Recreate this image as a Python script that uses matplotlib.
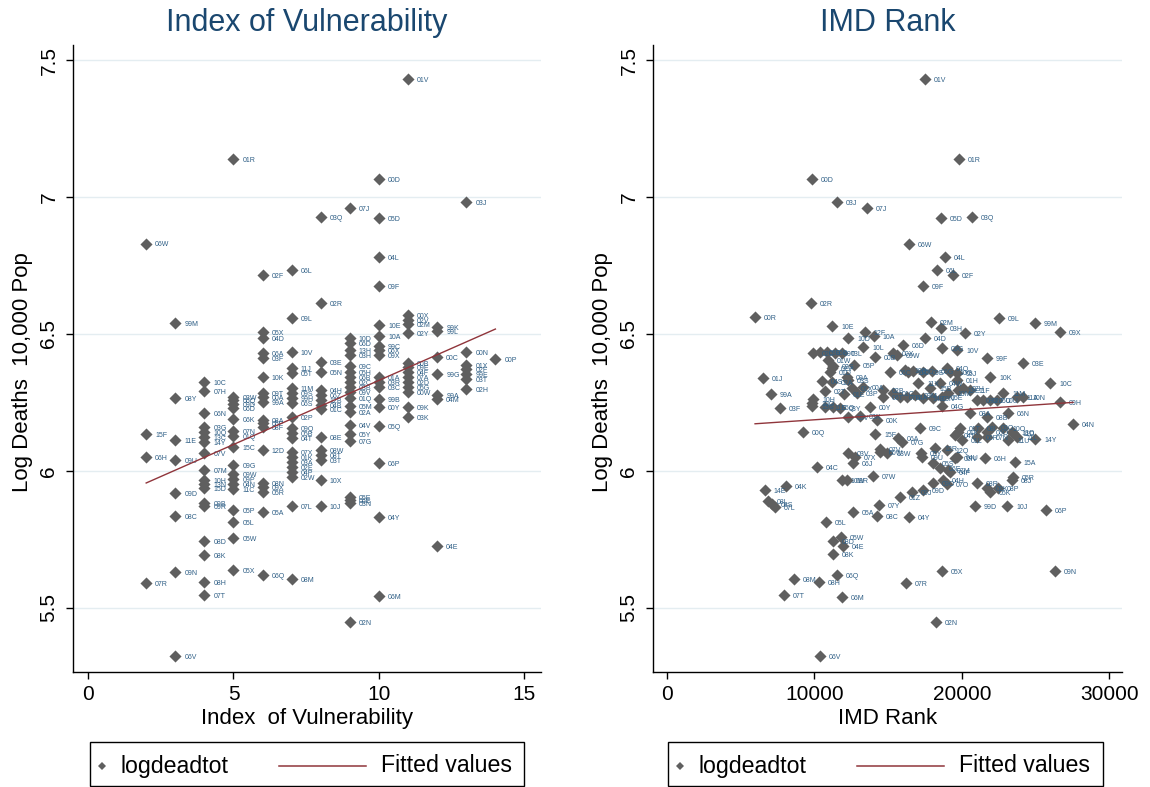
import numpy as np
import matplotlib
matplotlib.use('Agg')
import matplotlib.pyplot as plt
from matplotlib.lines import Line2D
from matplotlib.patches import Rectangle

plt.rcParams['font.family'] = ['Liberation Sans', 'DejaVu Sans']

# ---- left panel: index of vulnerability (integer scores) ----
vuln_index = [
    2, 2, 2, 2,
    3, 3, 3, 3, 3, 3, 3, 3,
    4, 4, 4, 4, 4, 4, 4, 4, 4, 4, 4, 4, 4, 4, 4, 4, 4, 4,
    5, 5, 5, 5, 5, 5, 5, 5, 5, 5, 5, 5, 5, 5, 5, 5, 5, 5,
    6, 6, 6, 6, 6, 6, 6, 6, 6, 6, 6, 6, 6, 6, 6, 6, 6, 6,
    7, 7, 7, 7, 7, 7, 7, 7, 7, 7, 7, 7, 7, 7, 7, 7, 7, 7, 7, 7, 7,
    8, 8, 8, 8, 8, 8, 8, 8, 8, 8, 8, 8, 8, 8, 8,
    9, 9, 9, 9, 9, 9, 9, 9, 9, 9, 9, 9, 9, 9, 9, 9, 9, 9, 9, 9, 9,
    10, 10, 10, 10, 10, 10, 10, 10, 10, 10, 10, 10, 10, 10, 10, 10, 10, 10,
    11, 11, 11, 11, 11, 11, 11, 11, 11, 11, 11, 11, 11, 11,
    12, 12, 12, 12, 12, 12, 12,
    13, 13, 13, 13, 13, 13, 13,
    14,
]
vuln_logdeath = [
    6.83, 6.135, 6.05, 5.59,
    6.54, 6.266, 6.113, 6.04, 5.92, 5.836, 5.63, 5.325,
    6.325, 6.292, 6.212, 6.161, 6.142, 6.124, 6.106, 6.066, 6.004, 5.967,
    5.953, 5.938, 5.883, 5.872, 5.745, 5.693, 5.595, 5.547,
    7.139, 6.270, 6.259, 6.245, 6.230, 6.190, 6.146, 6.128, 6.088, 6.022,
    5.989, 5.971, 5.953, 5.934, 5.858, 5.814, 5.755, 5.639,
    6.715, 6.507, 6.485, 6.431, 6.412, 6.343, 6.285, 6.270, 6.252, 6.186,
    6.175, 6.161, 6.077, 5.956, 5.942, 5.923, 5.850, 5.620,
    6.734, 6.558, 6.434, 6.376, 6.358, 6.303, 6.285, 6.266, 6.248, 6.197,
    6.157, 6.139, 6.120, 6.069, 6.051, 6.033, 6.015, 5.996, 5.978, 5.872, 5.606,
    6.927, 6.613, 6.398, 6.361, 6.296, 6.277, 6.259, 6.241, 6.226, 6.124,
    6.077, 6.058, 6.040, 5.967, 5.872,
    6.960, 6.485, 6.467, 6.442, 6.423, 6.383, 6.361, 6.343, 6.325, 6.307,
    6.288, 6.266, 6.237, 6.215, 6.168, 6.135, 6.109, 5.905, 5.894, 5.883, 5.449,
    7.066, 6.923, 6.781, 6.675, 6.533, 6.493, 6.456, 6.442, 6.423, 6.343,
    6.325, 6.307, 6.263, 6.234, 6.164, 6.029, 5.832, 5.544,
    7.431, 6.569, 6.551, 6.536, 6.504, 6.394, 6.380, 6.361, 6.343, 6.325,
    6.307, 6.288, 6.234, 6.197,
    6.526, 6.511, 6.416, 6.354, 6.277, 6.263, 5.726,
    6.982, 6.434, 6.387, 6.372, 6.354, 6.336, 6.299,
    6.409,
]
vuln_codes = [
    '06W', '15F', '06H', '07R',
    '99M', '08Y', '11E', '09U', '09D', '08C', '09N', '06V',
    '10C', '07H', '06N', '03G', '10Q', '13C', '14Y', '07V', '07M', '10H',
    '13N', '15D', '09B', '09R', '08D', '08K', '08H', '07T',
    '01R', '03W', '06Q', '09D', '06D', '06K', '07N', '01Q', '15C', '09G',
    '09W', '09P', '04N', '11C', '05P', '05L', '05W', '05X',
    '02F', '05X', '04D', '06A', '03F', '10K', '09T', '00A', '99A', '08A',
    '06F', '08F', '12D', '08N', '09X', '05R', '05A', '06Q',
    '06L', '09L', '10V', '11J', '05T', '11M', '09S', '99H', '06S', '02P',
    '09Q', '05B', '04T', '07X', '01K', '03A', '02E', '04P', '02W', '07L', '08M',
    '03Q', '02R', '03E', '05N', '04H', '06Z', '12B', '04B', '01C', '08E',
    '08W', '08T', '03T', '10X', '10J',
    '07J', '10D', '06D', '13H', '03H', '09C', '05H', '06B', '02C', '03B',
    '09V', '01Q', '05M', '02A', '04V', '05Y', '07G', '05E', '06E', '03N', '02N',
    '00D', '05D', '04L', '09F', '10E', '10A', '99C', '06X', '09X', '01A',
    '03R', '03C', '99B', '00Y', '05Q', '06P', '04Y', '06M',
    '01V', '00X', '02V', '02M', '02Y', '00B', '09E', '04F', '07A', '02D',
    '05G', '00W', '09K', '03K',
    '99K', '99L', '00C', '99G', '99A', '04M', '04E',
    '03J', '00N', '01X', '02F', '99E', '03T', '02H',
    '00P',
]

# ---- right panel: IMD rank ----
imd_rank = [
    17490, 19800, 9830, 11530, 13560, 18580, 20680, 16410, 18850, 18310,
    19390, 17360, 9760, 5970, 22510, 24950, 26640, 17900, 18580, 20200,
    17490, 16000, 18640, 19660, 15320, 15590, 21690, 24140, 11190, 13420,
    14030, 12270, 13290, 14100, 9900, 10370, 10850, 11390, 11860, 10920,
    12680, 11190, 11050, 11250, 12200, 12270, 6510, 10510, 11190, 13290,
    12540, 10710, 7050, 12000, 12880, 14640, 9900, 9830, 9830, 10710,
    11250, 11730, 7660, 13760, 12270, 13080, 14240, 9220, 14100, 12270,
    12750, 12610, 14440, 10170, 11860, 12200, 13970, 8070, 6640, 6850,
    7120, 7320, 15120, 16140, 16340, 16680, 17360, 17970, 18980, 19190,
    19660, 21900, 25970, 17020, 17830, 18510, 19660, 20070, 14640, 15320,
    15800, 16270, 16820, 17360, 18040, 18640, 19050, 19730, 20540, 22780,
    21020, 21420, 21900, 22370, 23730, 24140, 26640, 18640, 20540, 23120,
    21690, 27530, 17150, 22030, 22780, 19860, 19730, 21080, 21690, 23390,
    23460, 23730, 15660, 15930, 19530, 20000, 21020, 21690, 23120, 24950,
    18170, 18980, 14440, 14920, 17220, 17290, 19660, 19530, 21560, 23590,
    18040, 18510, 19050, 19190, 18710, 18980, 18040, 21020, 21690, 21900,
    22440, 23460, 23390, 16610, 15800, 17360, 14370, 20880, 23050, 25690,
    12610, 14240, 16410, 10780, 11800, 11250, 11930, 11250, 18640, 26300,
    11530, 8610, 10300, 16200, 7930, 11860, 18240, 10370,
]
imd_logdeath = [
    7.431, 7.139, 7.066, 6.982, 6.960, 6.923, 6.927, 6.828, 6.781, 6.734,
    6.715, 6.675, 6.613, 6.562, 6.558, 6.540, 6.507, 6.544, 6.522, 6.504,
    6.485, 6.460, 6.449, 6.442, 6.431, 6.423, 6.412, 6.394, 6.529, 6.507,
    6.493, 6.485, 6.453, 6.416, 6.431, 6.434, 6.434, 6.431, 6.431, 6.405,
    6.387, 6.376, 6.361, 6.383, 6.343, 6.332, 6.339, 6.328, 6.325, 6.307,
    6.303, 6.292, 6.281, 6.281, 6.285, 6.270, 6.263, 6.248, 6.237, 6.234,
    6.234, 6.230, 6.230, 6.234, 6.197, 6.201, 6.186, 6.142, 6.135, 6.066,
    6.051, 6.029, 6.080, 6.015, 5.967, 5.967, 5.982, 5.945, 5.931, 5.891,
    5.880, 5.869, 6.361, 6.369, 6.361, 6.365, 6.361, 6.365, 6.376, 6.361,
    6.358, 6.343, 6.321, 6.321, 6.303, 6.321, 6.332, 6.303, 6.296, 6.285,
    6.270, 6.270, 6.277, 6.266, 6.266, 6.270, 6.285, 6.296, 6.296, 6.285,
    6.259, 6.259, 6.259, 6.259, 6.270, 6.270, 6.252, 6.237, 6.212, 6.212,
    6.197, 6.172, 6.157, 6.161, 6.157, 6.157, 6.142, 6.157, 6.142, 6.142,
    6.139, 6.124, 6.120, 6.106, 6.131, 6.113, 6.124, 6.124, 6.113, 6.117,
    6.084, 6.077, 6.069, 6.066, 6.066, 6.051, 6.051, 6.048, 6.048, 6.033,
    6.029, 6.011, 6.004, 5.996, 5.967, 5.953, 5.956, 5.956, 5.938, 5.923,
    5.938, 5.978, 5.967, 5.923, 5.905, 5.931, 5.876, 5.872, 5.872, 5.858,
    5.850, 5.836, 5.832, 5.814, 5.759, 5.745, 5.726, 5.697, 5.635, 5.635,
    5.620, 5.606, 5.595, 5.591, 5.547, 5.540, 5.449, 5.325,
]
imd_codes = [
    '01V', '01R', '00D', '03J', '07J', '05D', '03Q', '06W', '04L', '06L',
    '02F', '09F', '02R', '00R', '09L', '99M', '09X', '02M', '03H', '02Y',
    '04D', '06D', '09G', '10V', '00X', '09W', '99F', '03E', '10E', '12F',
    '10A', '10D', '10L', '00B', '02C', '03B', '06B', '09T', '03L', '01W',
    '05P', '02V', '01D', '02S', '09A', '03S', '01J', '04S', '02A', '00A',
    '01X', '02T', '99A', '01E', '03P', '06T', '10H', '10Q', '13C', '11E',
    '05Q', '03Y', '03F', '00Y', '05V', '03K', '00K', '00Q', '15F', '03V',
    '07X', '06J', '07V', '04C', '10W', '09R', '07W', '04K', '14E', '08L',
    '08S', '07L', '06C', '10B', '11C', '05C', '09E', '06G', '04Q', '10G',
    '05J', '10K', '10C', '11X', '15B', '04W', '01H', '07H', '02B', '01C',
    '07K', '04A', '09M', '14B', '03N', '05E', '10M', '12E', '11F', '11M',
    '08U', '02J', '05U', '00U', '11A', '10N', '09H', '04G', '08A', '06N',
    '08B', '04N', '09C', '03O', '10O', '01T', '01K', '08I', '06O', '13O',
    '11D', '11L', '06A', '07G', '04T', '01L', '06R', '07N', '11U', '14Y',
    '12R', '12Q', '00W', '13W', '05Y', '09U', '04U', '05N', '06H', '15A',
    '05S', '06E', '07M', '04F', '04H', '07O', '09O', '08R', '02K', '05K',
    '08P', '05R', '08J', '09J', '01Z', '09D', '07Y', '99D', '10J', '06P',
    '05A', '08C', '04Y', '05L', '05W', '08D', '04E', '08K', '05X', '09N',
    '06Q', '08M', '08H', '07R', '07T', '06M', '02N', '06V',
]

MARK = '#5f5f5f'
LAB = '#2f5f86'
FIT = '#90353b'
GRID = '#e4edf1'
TITLE = '#1a476f'

W, H = 1150, 787
fig = plt.figure(figsize=(W / 100, H / 100), dpi=100)
fig.patch.set_facecolor('white')


def fx(px):
    return px / W


def fy(py):
    return 1 - py / H


def draw_legend(x0, x1, y0, y1):
    fig.add_artist(Rectangle((fx(x0), fy(y1)), fx(x1) - fx(x0), fy(y0) - fy(y1),
                             transform=fig.transFigure, facecolor='white',
                             edgecolor='black', lw=1.0))
    yc = (y0 + y1) / 2 + 2
    fig.add_artist(Line2D([fx(x0 + 12)], [fy(yc)], marker='D', ms=4.2, ls='none',
                          color=MARK, mew=0, transform=fig.transFigure))
    fig.text(fx(x0 + 31), fy(yc), 'logdeadtot', fontsize=16.7, va='center', ha='left')
    fig.add_artist(Line2D([fx(x0 + 189), fx(x0 + 276)], [fy(yc), fy(yc)],
                          color=FIT, lw=1.1, transform=fig.transFigure))
    fig.text(fx(x0 + 291), fy(yc), 'Fitted values', fontsize=16.7, va='center', ha='left')


def draw_panel(rect, x, y, codes, title, xlabel, xlim, xticks, xticklabels):
    ax = fig.add_axes([fx(rect[0]), fy(rect[3]), fx(rect[2]) - fx(rect[0]), fy(rect[1]) - fy(rect[3])])
    x = np.asarray(x, float)
    y = np.asarray(y, float)
    ax.scatter(x, y, marker='D', s=38, color=MARK, linewidths=0, zorder=3)
    for xi, yi, c in zip(x, y, codes):
        ax.annotate(c, (xi, yi), xytext=(6.5, -0.9), textcoords='offset points',
                    fontsize=5.0, color=LAB, va='center', ha='left', zorder=4)
    # linear fit, drawn over the observed range
    b, a = np.polyfit(x, y, 1)
    xs = np.array([x.min(), x.max()])
    ax.plot(xs, a + b * xs, color=FIT, lw=1.0, zorder=5)

    ax.set_xlim(*xlim)
    ax.set_ylim(5.266, 7.555)
    ax.set_xticks(xticks)
    ax.set_xticklabels(xticklabels)
    ax.set_yticks([5.5, 6, 6.5, 7, 7.5])
    ax.set_yticklabels(['5.5', '6', '6.5', '7', '7.5'], rotation=90, va='center')
    ax.yaxis.grid(True, color=GRID, lw=1.0)
    ax.set_axisbelow(True)
    for s in ('top', 'right'):
        ax.spines[s].set_visible(False)
    for s in ('left', 'bottom'):
        ax.spines[s].set_linewidth(1.0)
    ax.tick_params(axis='both', direction='out', length=5, width=1.0, labelsize=15, pad=4)
    ax.tick_params(axis='y', pad=5.5)

    ax.set_title(title, fontsize=22, color=TITLE, pad=10)
    ax.set_xlabel(xlabel, fontsize=16)
    ax.xaxis.set_label_coords(0.5, -0.074)
    ax.xaxis.label.set_va('center')
    ax.set_ylabel('Log Deaths  10,000 Pop', fontsize=16)
    ax.yaxis.set_label_coords(-0.108, 0.478)
    ax.yaxis.label.set_va('center')
    return ax


draw_panel((73, 45, 541, 672), vuln_index, vuln_logdeath, vuln_codes,
           'Index of Vulnerability', 'Index  of Vulnerability',
           (-0.515, 15.567), [0, 5, 10, 15], ['0', '5', '10', '15'])
draw_panel((653, 45, 1122, 672), imd_rank, imd_logdeath, imd_codes,
           'IMD Rank', 'IMD Rank',
           (-949, 30850), [0, 10000, 20000, 30000], ['0', '10000', '20000', '30000'])

draw_legend(90, 524, 742, 786)
draw_legend(668, 1103, 742, 786)

fig.savefig('out.png', dpi=100, facecolor='white')
